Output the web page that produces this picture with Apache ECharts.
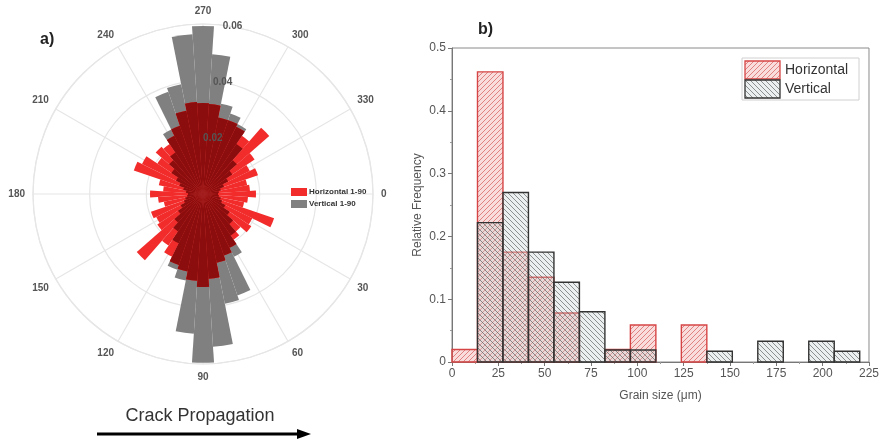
<!DOCTYPE html>
<html lang="en">
<head>
    <meta charset="UTF-8">
    <title>Crack orientation and grain size</title>
    <script src="https://cdn.jsdelivr.net/npm/echarts@6/dist/echarts.min.js"></script>
    <style type="text/css">
        * { margin: 0; padding: 0; }
        html, body { width: 882px; height: 442px; background: #fff; }
    </style>
</head>
<body>
<div id="main" style="width: 882px;height:442px;"></div>
<script type="text/javascript">
    // rose diagram: 7.5 degree bins
    var angleBins = ['0', '7.5', '15', '22.5', '30', '37.5', '45', '52.5', '60', '67.5', '75', '82.5',
        '90', '97.5', '105', '112.5', '120', '127.5', '135', '142.5', '150', '157.5', '165', '172.5',
        '180', '187.5', '195', '202.5', '210', '217.5', '225', '232.5', '240', '247.5', '255', '262.5',
        '270', '277.5', '285', '292.5', '300', '307.5', '315', '322.5', '330', '337.5', '345', '352.5'];
    var horizontalRose = [0.0187, 0.0159, 0.0148, 0.0265, 0.0194, 0.0205, 0.0176, 0.0194, 0.0212, 0.0229, 0.0247, 0.0300,
        0.0328, 0.0307, 0.0279, 0.0265, 0.0247, 0.0219, 0.0311, 0.0194, 0.0184, 0.0194, 0.0141, 0.0159,
        0.0187, 0.0141, 0.0159, 0.0258, 0.0240, 0.0194, 0.0222, 0.0212, 0.0229, 0.0254, 0.0300, 0.0325,
        0.0321, 0.0318, 0.0275, 0.0275, 0.0265, 0.0247, 0.0311, 0.0219, 0.0184, 0.0205, 0.0159, 0.0166];
    var verticalRose = [0.0053, 0.0056, 0.0064, 0.0071, 0.0088, 0.0113, 0.0141, 0.0176, 0.0247, 0.0378, 0.0395, 0.0540,
        0.0596, 0.0494, 0.0311, 0.0282, 0.0194, 0.0159, 0.0134, 0.0106, 0.0088, 0.0071, 0.0064, 0.0056,
        0.0053, 0.0060, 0.0071, 0.0088, 0.0106, 0.0134, 0.0159, 0.0176, 0.0254, 0.0381, 0.0395, 0.0565,
        0.0593, 0.0494, 0.0325, 0.0300, 0.0275, 0.0212, 0.0159, 0.0124, 0.0099, 0.0078, 0.0064, 0.0056];
    var radiusTicks = [0.02, 0.04, 0.06];

    // histogram: bins of 13.75 um starting at 0
    var binWidth = 13.75;
    var horizontalFreq = [0.020, 0.462, 0.175, 0.135, 0.078, 0, 0.020, 0.059, 0, 0.059, 0, 0, 0, 0, 0, 0];
    var verticalFreq = [0, 0.222, 0.270, 0.175, 0.127, 0.080, 0.019, 0.019, 0, 0, 0.017, 0, 0.033, 0, 0.033, 0.017];

    var font = "'Liberation Sans', Arial, sans-serif";

    // overlap of both roses is shown darker
    var overlapRose = horizontalRose.map(function (v, i) {
        return Math.min(v, verticalRose[i]);
    });

    function hatch(bg, line, forward) {
        var s = 5;
        var c = document.createElement('canvas');
        c.width = s;
        c.height = s;
        var ctx = c.getContext('2d');
        ctx.fillStyle = bg;
        ctx.fillRect(0, 0, s, s);
        ctx.strokeStyle = line;
        ctx.lineWidth = 0.9;
        ctx.beginPath();
        for (var k = -s; k <= s; k += s) {
            if (forward) {
                ctx.moveTo(k, s); ctx.lineTo(k + s, 0);
            } else {
                ctx.moveTo(k, 0); ctx.lineTo(k + s, s);
            }
        }
        ctx.stroke();
        return c;
    }
    var redHatch = {image: hatch('rgba(235,150,150,0.32)', 'rgba(215,95,95,0.8)', true), repeat: 'repeat'};
    var grayHatch = {image: hatch('rgba(195,205,205,0.32)', 'rgba(85,85,85,0.7)', false), repeat: 'repeat'};

    function toBins(freq) {
        var out = [];
        freq.forEach(function (v, i) {
            if (v > 0) out.push([i * binWidth, (i + 1) * binWidth, v]);
        });
        return out;
    }

    function histItem(fill, stroke) {
        return function (params, api) {
            var p0 = api.coord([api.value(0), api.value(2)]);
            var p1 = api.coord([api.value(1), 0]);
            return {
                type: 'rect',
                shape: {x: p0[0], y: p0[1], width: p1[0] - p0[0], height: p1[1] - p0[1]},
                style: {fill: fill, stroke: stroke, lineWidth: 1.4}
            };
        };
    }

    var myChart = echarts.init(document.getElementById('main'));
    var center = [203, 194];
    var gridLine = {color: '#e6e6e6', width: 1.2};

    var option = {
        animation: false,
        backgroundColor: '#fff',
        textStyle: {fontFamily: font},
        polar: [
            {center: center, radius: 170},
            {center: center, radius: 170},
            {center: center, radius: 170}
        ],
        angleAxis: [
            {
                polarIndex: 0, type: 'value', min: 0, max: 360, interval: 30,
                startAngle: 0, clockwise: true,
                axisLine: {lineStyle: gridLine},
                axisTick: {show: false},
                axisLabel: {color: '#555', fontSize: 10, fontWeight: 'bold', margin: 8},
                splitLine: {show: true, lineStyle: gridLine}
            },
            {
                polarIndex: 1, type: 'category', data: angleBins,
                startAngle: 3.75, clockwise: true, show: false
            },
            {
                polarIndex: 2, type: 'value', min: 0, max: 360,
                startAngle: 80, clockwise: true, show: false
            }
        ],
        radiusAxis: [
            {
                polarIndex: 0, min: 0, max: 0.06, interval: 0.02,
                axisLine: {show: false}, axisTick: {show: false}, axisLabel: {show: false},
                splitLine: {show: true, lineStyle: gridLine}
            },
            {polarIndex: 1, min: 0, max: 0.06, show: false},
            {
                polarIndex: 2, min: 0, max: 0.06, interval: 0.02, z: 10,
                axisLine: {show: false}, axisTick: {show: false}, splitLine: {show: false},
                axisLabel: {
                    color: '#555', fontSize: 10, fontWeight: 'bold', margin: 0,
                    align: 'center', verticalAlign: 'middle',
                    formatter: function (v) {
                        return radiusTicks.indexOf(v) >= 0 ? v.toFixed(2) : '';
                    }
                }
            }
        ],
        grid: {left: 452, right: 11, top: 48, bottom: 80, show: true, borderColor: '#8a8a8a', borderWidth: 1},
        xAxis: {
            type: 'value', min: 0, max: 225, interval: 25,
            name: 'Grain size (\u03bcm)', nameLocation: 'middle', nameGap: 28,
            nameTextStyle: {color: '#555', fontSize: 12, fontFamily: font},
            axisLine: {lineStyle: {color: '#777'}},
            axisTick: {length: 4, lineStyle: {color: '#777'}},
            minorTick: {show: true, splitNumber: 2, length: 2, lineStyle: {color: '#999'}},
            axisLabel: {color: '#555', fontSize: 12, margin: 6},
            splitLine: {show: false}
        },
        yAxis: {
            type: 'value', min: 0, max: 0.5, interval: 0.1,
            name: 'Relative Frequency', nameLocation: 'middle', nameGap: 28,
            nameTextStyle: {color: '#555', fontSize: 12, fontFamily: font},
            axisLine: {show: true, lineStyle: {color: '#777'}},
            axisTick: {show: true, length: 4, lineStyle: {color: '#777'}},
            minorTick: {show: true, splitNumber: 2, length: 2, lineStyle: {color: '#999'}},
            axisLabel: {color: '#555', fontSize: 12, margin: 6},
            splitLine: {show: false}
        },
        legend: {
            left: 286, top: 183, orient: 'vertical',
            itemWidth: 16, itemHeight: 8, itemGap: 4,
            icon: 'rect',
            data: ['Horizontal 1-90', 'Vertical 1-90'],
            textStyle: {fontSize: 8, fontWeight: 'bold', color: '#333', padding: [0, 0, 0, -3]}
        },
        series: [
            {
                name: 'Vertical 1-90', type: 'bar', coordinateSystem: 'polar', polarIndex: 1,
                data: verticalRose, barCategoryGap: '0%', barGap: '-100%',
                itemStyle: {color: '#808080'}
            },
            {
                name: 'Horizontal 1-90', type: 'bar', coordinateSystem: 'polar', polarIndex: 1,
                data: horizontalRose, barCategoryGap: '0%', barGap: '-100%',
                itemStyle: {color: '#f22b2b'}
            },
            {
                name: 'overlap', type: 'bar', coordinateSystem: 'polar', polarIndex: 1,
                data: overlapRose, barCategoryGap: '0%', barGap: '-100%',
                itemStyle: {color: '#8c0d0d'}
            },
            {
                name: 'Horizontal', type: 'custom', renderItem: histItem(redHatch, '#d64545'),
                encode: {x: [0, 1], y: 2}, data: toBins(horizontalFreq), z: 3
            },
            {
                name: 'Vertical', type: 'custom', renderItem: histItem(grayHatch, '#333'),
                encode: {x: [0, 1], y: 2}, data: toBins(verticalFreq), z: 4
            }
        ],
        graphic: [
            {type: 'text', left: 40, top: 32, style: {text: 'a)', font: 'bold 16px ' + font, fill: '#222'}},
            {type: 'text', left: 478, top: 22, style: {text: 'b)', font: 'bold 16px ' + font, fill: '#222'}},
            {type: 'text', x: 200, y: 416, style: {text: 'Crack Propagation', font: '18px ' + font, fill: '#333', align: 'center', verticalAlign: 'middle'}},
            {type: 'line', shape: {x1: 97, y1: 434, x2: 300, y2: 434}, style: {stroke: '#000', lineWidth: 3}},
            {type: 'polygon', shape: {points: [[297, 429], [311, 434], [297, 439]]}, style: {fill: '#000'}},
            // legend of panel b
            {type: 'rect', shape: {x: 742, y: 58, width: 117, height: 42}, style: {fill: '#fff', stroke: '#d0d0d0', lineWidth: 1}, z: 20},
            {type: 'rect', shape: {x: 745, y: 61, width: 35, height: 18}, style: {fill: redHatch, stroke: '#d64545', lineWidth: 1.3}, z: 21},
            {type: 'rect', shape: {x: 745, y: 80, width: 35, height: 18}, style: {fill: grayHatch, stroke: '#333', lineWidth: 1.3}, z: 21},
            {type: 'text', x: 785, y: 70, style: {text: 'Horizontal', font: '14px ' + font, fill: '#333', verticalAlign: 'middle'}, z: 21},
            {type: 'text', x: 785, y: 89, style: {text: 'Vertical', font: '14px ' + font, fill: '#333', verticalAlign: 'middle'}, z: 21}
        ]
    };
    myChart.setOption(option);
</script>
</body>
</html>
